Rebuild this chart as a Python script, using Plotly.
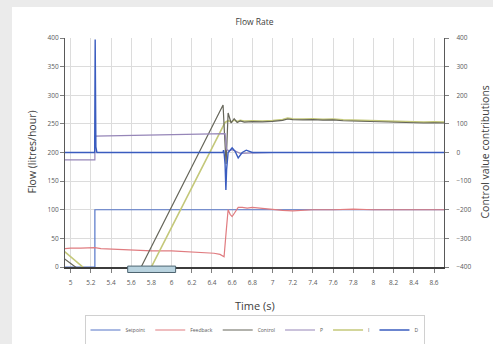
import plotly.graph_objects as go

# ---------------- data ----------------
t_setpoint = [4.94, 5.24, 5.24, 8.70]
setpoint = [0, 0, 100, 100]

t_feedback = [4.94, 5.00, 5.10, 5.24, 5.30, 5.45, 5.60, 5.80, 6.00, 6.15, 6.30, 6.42,
              6.48, 6.52, 6.54, 6.56, 6.58, 6.60, 6.63, 6.66, 6.70, 6.75, 6.80, 6.90,
              7.00, 7.10, 7.20, 7.40, 7.60, 7.80, 8.00, 8.20, 8.40, 8.60, 8.70]
feedback = [32, 33, 33, 34, 32, 31, 30, 28, 28, 27, 26, 24,
            22, 18, 60, 100, 92, 88, 96, 104, 104, 103, 104, 102,
            100, 99, 98, 100, 100, 101, 100, 100, 101, 100, 100]

t_control = [4.94, 5.24, 5.24, 6.51, 6.525, 6.54, 6.56, 6.59, 6.62, 6.65, 6.68, 6.72,
             6.80, 6.90, 7.00, 7.10, 7.15, 7.20, 7.30, 7.40, 7.50, 7.60, 7.70, 7.80,
             7.90, 8.00, 8.10, 8.20, 8.30, 8.40, 8.50, 8.60, 8.70]
control = [-372, -450, -720, 166, 60, -40, 138, 103, 118, 105, 110, 106,
           108, 107, 109, 112, 117, 115, 114, 115, 113, 114, 111, 110,
           109, 108, 106, 104, 105, 104, 103, 104, 103]

t_p = [4.94, 5.24, 5.24, 5.40, 5.80, 6.20, 6.50, 6.53, 6.545, 6.57, 6.60, 6.64,
       6.68, 6.75, 6.85, 7.00, 8.70]
p_term = [-26, -26, 57, 58, 60, 62, 66, 66, 10, 6, 10, 2, -3, -2, -1, 0, 0]

t_i = [4.94, 5.24, 5.24, 6.53, 6.56, 6.59, 6.62, 6.65, 6.68, 6.72,
       6.80, 6.90, 7.00, 7.10, 7.15, 7.20, 7.30, 7.40, 7.50, 7.60, 7.70, 7.80,
       7.90, 8.00, 8.10, 8.20, 8.30, 8.40, 8.50, 8.60, 8.70]
i_term = [-346, -436, -787, 105, 111, 107, 113, 108, 112, 110,
          111, 110, 112, 115, 120, 118, 117, 118, 116, 117, 114, 113,
          112, 111, 109, 107, 108, 107, 106, 107, 106]

t_d = [4.94, 5.238, 5.243, 5.250, 5.26, 6.51, 6.515, 6.52, 6.53, 6.538, 6.545,
       6.56, 6.60, 6.63, 6.66, 6.70, 6.74, 6.80, 8.70]
d_term = [0, 0, 395, 20, 0, 0, 8, 0, -40, -131, -60, 0, 16, 4, -19, 0, 8, 0, 0]

x_tickvals = [5.0, 5.2, 5.4, 5.6, 5.8, 6.0, 6.2, 6.4, 6.6, 6.8, 7.0, 7.2, 7.4,
              7.6, 7.8, 8.0, 8.2, 8.4, 8.6]
x_ticktext = ["5", "5.2", "5.4", "5.6", "5.8", "6", "6.2", "6.4", "6.6", "6.8", "7",
              "7.2", "7.4", "7.6", "7.8", "8", "8.2", "8.4", "8.6"]

# ---------------- figure ----------------
FONT = "Open Sans"
fig = go.Figure()

fig.add_trace(go.Scatter(x=t_setpoint, y=setpoint, name="Setpoint", mode="lines",
                         line=dict(color="#5575c8", width=1.2), yaxis="y", legendrank=1))
fig.add_trace(go.Scatter(x=t_feedback, y=feedback, name="Feedback", mode="lines",
                         line=dict(color="#e07c80", width=1.2), yaxis="y", legendrank=2))
fig.add_trace(go.Scatter(x=t_i, y=i_term, name="I", mode="lines",
                         line=dict(color="#c4c87a", width=1.6), yaxis="y2", legendrank=5))
fig.add_trace(go.Scatter(x=t_control, y=control, name="Control", mode="lines",
                         line=dict(color="#66665a", width=1.2), yaxis="y2", legendrank=3))
fig.add_trace(go.Scatter(x=t_p, y=p_term, name="P", mode="lines",
                         line=dict(color="#9686b8", width=1.2), yaxis="y2", legendrank=4))
fig.add_trace(go.Scatter(x=t_d, y=d_term, name="D", mode="lines",
                         line=dict(color="#3a5cbf", width=1.4), yaxis="y2", legendrank=6))

tickfont = dict(family=FONT, size=6.5, color="#595959")
titlefont = dict(family=FONT, size=10.5, color="#404040")

fig.update_layout(
    width=493, height=344,
    margin=dict(l=65, r=49, t=38, b=77, autoexpand=False),
    paper_bgcolor="#ebebeb",
    plot_bgcolor="white",
    showlegend=True,
    title=dict(text="Flow Rate", x=0.5, xref="paper", xanchor="center",
               y=1 - 22 / 344, yref="container", yanchor="middle",
               font=dict(family=FONT, size=8.5, color="#404040")),
    xaxis=dict(range=[4.944, 8.699], tickvals=x_tickvals, ticktext=x_ticktext,
               showgrid=True, gridcolor="#dcdcdc", gridwidth=1, zeroline=False,
               showline=True, linecolor="#3c3c3c", linewidth=2,
               ticks="outside", ticklen=4, tickcolor="#7f7f7f",
               ticklabelstandoff=4, tickfont=tickfont),
    yaxis=dict(range=[0, 400], dtick=50, showgrid=True, gridcolor="#dcdcdc",
               zeroline=False, showline=True, linecolor="#595959", linewidth=1,
               ticks="outside", ticklen=4, tickcolor="#7f7f7f", tickfont=tickfont),
    yaxis2=dict(range=[-400, 400], dtick=100, overlaying="y", side="right",
                showgrid=False, zeroline=False, showline=True, linecolor="#595959",
                linewidth=1.2, ticks="outside", ticklen=4, tickcolor="#7f7f7f",
                tickfont=tickfont, ticklabelstandoff=6),
    legend=dict(orientation="h", x=0.5, xanchor="center", y=(267 - 330) / 229,
                yanchor="middle",
                bgcolor="white", bordercolor="#d0d0d0", borderwidth=1,
                font=dict(family=FONT, size=5, color="#595959"),
                itemwidth=30, tracegroupgap=0),
    annotations=[
        dict(text="Time (s)", xref="paper", yref="paper", x=0.5, y=-0.170,
             xanchor="center", yanchor="middle", showarrow=False, font=dict(family=FONT, size=11, color="#404040")),
        dict(text="Flow (litres/hour)", xref="paper", yref="paper", x=(31 - 65) / 379, y=0.5,
             xanchor="center", yanchor="middle", textangle=-90, showarrow=False, font=titlefont),
        dict(text="Control value contributions", xref="paper", yref="paper", x=(484 - 65) / 379,
             y=0.5, xanchor="center", yanchor="middle", textangle=-90, showarrow=False,
             font=titlefont),
    ],
    shapes=[
        # white chart panel
        dict(type="rect", xref="paper", yref="paper", x0=(12 - 65) / 379, x1=(493 - 65) / 379,
             y0=(267 - 344) / 229, y1=(267 - 7) / 229, fillcolor="white",
             line=dict(width=0), layer="below"),
        # highlighted band on the time axis
        dict(type="rect", xref="x", yref="paper", x0=5.565, x1=6.04,
             y0=-0.024, y1=0.004, fillcolor="#b9d3df",
             line=dict(color="#4d6470", width=1), layer="above"),
    ],
)

fig.write_html("out.html", config={"displayModeBar": False},
               post_script="document.body.style.margin='0';")
